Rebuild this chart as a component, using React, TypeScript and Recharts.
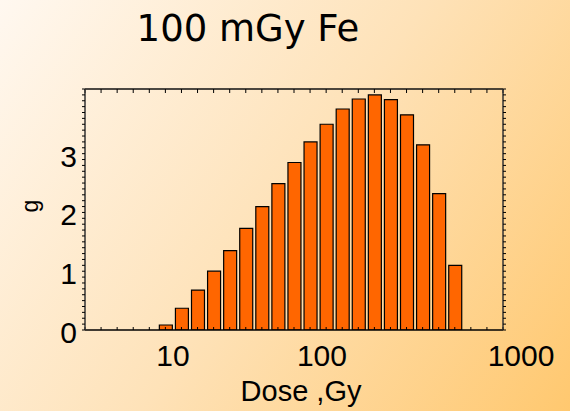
import React from 'react';
import { BarChart, Bar, XAxis, YAxis } from 'recharts';

// dose bins are equally spaced on a log scale; index = position on the axis
const binIndex = [5, 6, 7, 8, 9, 10, 11, 12, 13, 14, 15, 16, 17, 18, 19, 20, 21, 22, 23];
const gValues = [0.085, 0.37, 0.68, 1.0, 1.35, 1.73, 2.1, 2.49, 2.85, 3.2, 3.5, 3.76, 3.93, 4.0, 3.92, 3.66, 3.15, 2.32, 1.1];

const doseTickPositions = [5.47, 14.74, 26];
const doseTickLabels = ['10', '100', '1000'];
const gTicks = [0, 1, 2, 3];

const X_DOMAIN: [number, number] = [0, 26];
const Y_DOMAIN: [number, number] = [0, 4.1];
const binTicks = Array.from({ length: 27 }, (_, i) => i);
const gMinorTicks = Array.from({ length: 42 }, (_, i) => i / 10);

const FONT = '"Liberation Sans", Arial, sans-serif';

const data = binIndex.map((x, i) => ({ x, g: gValues[i] }));

const EmptyTick = () => <g />;

const DoseTick = (props: any) => {
  const { x, y, payload } = props;
  const i = doseTickPositions.indexOf(payload.value);
  const shift = i === doseTickPositions.length - 1 ? 18 : 0;
  return (
    <text x={x + shift} y={y + 21} textAnchor="middle" fontSize={30} fontFamily={FONT} fill="#000">
      {doseTickLabels[i]}
    </text>
  );
};

const GTick = (props: any) => {
  const { x, y, payload } = props;
  if (!gTicks.includes(payload.value)) return <g />;
  return (
    <text x={x} y={y + 13} textAnchor="end" fontSize={30} fontFamily={FONT} fill="#000">
      {payload.value}
    </text>
  );
};

const XLabel = () => (
  <text x={301} y={401} textAnchor="middle" fontSize={29} fontFamily={FONT} fill="#000">
    Dose ,Gy
  </text>
);

const YLabel = () => (
  <text x={38} y={206} transform="rotate(-90 38 206)" textAnchor="middle" fontSize={23} fontFamily={FONT} fill="#000">
    g
  </text>
);

export default function App() {
  return (
    <div
      style={{
        position: 'fixed',
        left: 0,
        top: 0,
        width: 570,
        height: 411,
        background: 'linear-gradient(125deg, #fff8f0 0%, #fee2b8 50%, #ffc86f 100%)',
      }}
    >
      <div
        style={{
          position: 'absolute',
          left: 0,
          top: 10,
          width: 496,
          textAlign: 'center',
          fontFamily: '"DejaVu Sans", Verdana, sans-serif',
          fontSize: 37,
          lineHeight: '37px',
          color: '#000',
        }}
      >
        100 mGy Fe
      </div>
      <BarChart width={570} height={411} data={data} margin={{ top: 89, right: 0, left: 0, bottom: 0 }}>
        <XAxis
          xAxisId="bottom"
          dataKey="x"
          type="number"
          domain={X_DOMAIN}
          allowDataOverflow
          ticks={doseTickPositions}
          interval={0}
          height={81}
          tickLine={false}
          tickSize={6}
          tickMargin={9}
          axisLine={{ stroke: '#000', strokeWidth: 1.5 }}
          tick={<DoseTick />}
          label={<XLabel />}
        />
        <XAxis
          xAxisId="bottomMinor"
          orientation="bottom"
          dataKey="x"
          type="number"
          domain={X_DOMAIN}
          allowDataOverflow
          ticks={binTicks}
          interval={0}
          mirror
          tick={EmptyTick}
          tickSize={3}
          axisLine={false}
          tickLine={{ stroke: '#000' }}
        />
        <XAxis
          xAxisId="top"
          orientation="top"
          dataKey="x"
          type="number"
          domain={X_DOMAIN}
          allowDataOverflow
          ticks={binTicks}
          interval={0}
          mirror
          tick={EmptyTick}
          tickSize={4}
          axisLine={{ stroke: '#111', strokeWidth: 1.5 }}
          tickLine={{ stroke: '#000' }}
        />
        <YAxis
          yAxisId="left"
          type="number"
          domain={Y_DOMAIN}
          allowDataOverflow
          ticks={gMinorTicks}
          interval={0}
          width={85}
          tickSize={3}
          tickMargin={5}
          tickLine={{ stroke: '#000' }}
          axisLine={{ stroke: '#333', strokeWidth: 1.5 }}
          tick={GTick}
          label={<YLabel />}
        />
        <YAxis
          yAxisId="right"
          orientation="right"
          dataKey="g"
          type="number"
          domain={Y_DOMAIN}
          allowDataOverflow
          ticks={gMinorTicks}
          interval={0}
          width={67}
          tick={EmptyTick}
          tickSize={3}
          axisLine={{ stroke: '#333', strokeWidth: 1.5 }}
          tickLine={{ stroke: '#000' }}
        />
        <Bar
          xAxisId="bottom"
          yAxisId="left"
          dataKey="g"
          barSize={13}
          fill="#ff6600"
          stroke="#000"
          strokeWidth={1.2}
          isAnimationActive={false}
        />
      </BarChart>
    </div>
  );
}
